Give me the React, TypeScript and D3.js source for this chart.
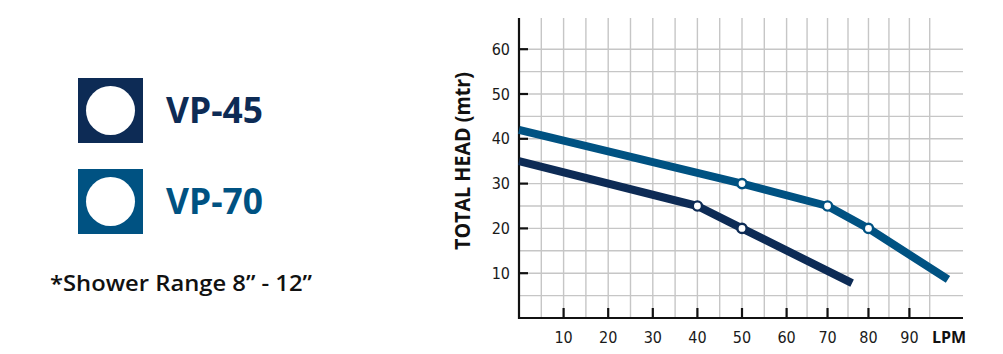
import { useEffect, useRef } from "react";
import * as d3 from "d3";

// chart values
const xTicks = [10, 20, 30, 40, 50, 60, 70, 80, 90];
const yTicks = [10, 20, 30, 40, 50, 60];
const xGrid = [5, 10, 15, 20, 25, 30, 35, 40, 45, 50, 55, 60, 65, 70, 75, 80, 85, 90, 95];
const yGrid = [5, 10, 15, 20, 25, 30, 35, 40, 45, 50, 55, 60];

const vp45 = [
  { lpm: 0, head: 35 },
  { lpm: 40, head: 25 },
  { lpm: 50, head: 20 },
  { lpm: 76, head: 7.8 },
];
const vp45Points = [
  { lpm: 40, head: 25 },
  { lpm: 50, head: 20 },
];

const vp70 = [
  { lpm: 0, head: 42 },
  { lpm: 50, head: 30 },
  { lpm: 70, head: 25 },
  { lpm: 80, head: 20 },
  { lpm: 99.5, head: 8.6 },
];
const vp70Points = [
  { lpm: 50, head: 30 },
  { lpm: 70, head: 25 },
  { lpm: 80, head: 20 },
];

const series = [
  { name: "VP-45", color: "#0d2b55", line: vp45, points: vp45Points },
  { name: "VP-70", color: "#005282", line: vp70, points: vp70Points },
];

const tickFont = "'Liberation Sans Narrow', 'DejaVu Sans Condensed', sans-serif";
const boldFont = "'Open Sans', 'Liberation Sans', sans-serif";

const App = () => {
  const svgRef = useRef<SVGSVGElement>(null);

  useEffect(() => {
    const svg = d3.select(svgRef.current);
    svg.selectAll("*").remove();

    // the printed grid is not quite even past 60
    const x = d3.scaleLinear().domain([0, 60, 90, 100]).range([519, 786.6, 909.4, 950]);
    const y = d3.scaleLinear().domain([0, 60]).range([318, 49.2]);
    const top = 18;
    const right = 963;

    // Grid
    const grid = svg.append("g").attr("stroke", "#c6c6c6").attr("stroke-width", 1.4);
    grid
      .selectAll("line.v")
      .data(xGrid)
      .enter()
      .append("line")
      .attr("class", "v")
      .attr("x1", (d) => x(d))
      .attr("x2", (d) => x(d))
      .attr("y1", top)
      .attr("y2", y(0));
    grid
      .selectAll("line.h")
      .data(yGrid)
      .enter()
      .append("line")
      .attr("class", "h")
      .attr("x1", x(0))
      .attr("x2", right)
      .attr("y1", (d) => y(d))
      .attr("y2", (d) => y(d));

    // Axes
    const axes = svg.append("g").attr("stroke", "#111").attr("stroke-width", 2.2);
    axes.append("line").attr("x1", x(0)).attr("x2", x(0)).attr("y1", top).attr("y2", y(0) + 1);
    axes.append("line").attr("x1", x(0) - 1).attr("x2", right).attr("y1", y(0)).attr("y2", y(0));
    axes
      .selectAll("line.yt")
      .data(yTicks)
      .enter()
      .append("line")
      .attr("class", "yt")
      .attr("x1", x(0))
      .attr("x2", x(0) + 9)
      .attr("y1", (d) => y(d))
      .attr("y2", (d) => y(d));
    axes
      .selectAll("line.xt")
      .data(xTicks)
      .enter()
      .append("line")
      .attr("class", "xt")
      .attr("x1", (d) => x(d))
      .attr("x2", (d) => x(d))
      .attr("y1", y(0) - 10)
      .attr("y2", y(0));

    // Tick labels
    svg
      .append("g")
      .selectAll("text")
      .data(yTicks)
      .enter()
      .append("text")
      .attr("x", 510)
      .attr("y", (d) => y(d) + 5.5)
      .attr("text-anchor", "end")
      .attr("font-family", tickFont)
      .attr("font-size", 16)
      .attr("fill", "#1a1a1a")
      .text((d) => d);
    svg
      .append("g")
      .selectAll("text")
      .data(xTicks)
      .enter()
      .append("text")
      .attr("x", (d) => x(d))
      .attr("y", 343)
      .attr("text-anchor", "middle")
      .attr("font-family", tickFont)
      .attr("font-size", 16)
      .attr("fill", "#1a1a1a")
      .text((d) => d);

    svg
      .append("text")
      .attr("x", 949)
      .attr("y", 343)
      .attr("text-anchor", "middle")
      .attr("font-family", boldFont)
      .attr("font-weight", "bold")
      .attr("font-size", 16)
      .attr("fill", "#111")
      .text("LPM");

    svg
      .append("text")
      .attr("transform", "translate(470,161) rotate(-90)")
      .attr("text-anchor", "middle")
      .attr("font-family", boldFont)
      .attr("font-weight", "bold")
      .attr("font-size", 22)
      .attr("textLength", 178)
      .attr("lengthAdjust", "spacingAndGlyphs")
      .attr("fill", "#111")
      .text("TOTAL HEAD (mtr)");

    // Curves
    const line = d3
      .line<{ lpm: number; head: number }>()
      .x((d) => x(d.lpm))
      .y((d) => y(d.head));

    series.forEach((s) => {
      svg
        .append("path")
        .datum(s.line)
        .attr("d", line)
        .attr("fill", "none")
        .attr("stroke", s.color)
        .attr("stroke-width", 8)
        .attr("stroke-linejoin", "round");
      svg
        .append("g")
        .selectAll("circle")
        .data(s.points)
        .enter()
        .append("circle")
        .attr("cx", (d) => x(d.lpm))
        .attr("cy", (d) => y(d.head))
        .attr("r", 4.6)
        .attr("fill", "#fff")
        .attr("stroke", s.color)
        .attr("stroke-width", 2.4);
    });

    // Legend
    const legend = svg
      .append("g")
      .selectAll("g")
      .data(series)
      .enter()
      .append("g")
      .attr("transform", (d, i) => `translate(78,${78 + i * 91})`);
    legend
      .append("rect")
      .attr("width", 65)
      .attr("height", 65)
      .attr("fill", (d) => d.color);
    legend
      .append("circle")
      .attr("cx", 32.5)
      .attr("cy", 32.5)
      .attr("r", 24.5)
      .attr("fill", "#fff");
    legend
      .append("text")
      .attr("x", 88)
      .attr("y", 45)
      .attr("font-family", boldFont)
      .attr("font-weight", "bold")
      .attr("font-size", 35)
      .attr("textLength", 97)
      .attr("lengthAdjust", "spacingAndGlyphs")
      .attr("fill", (d) => d.color)
      .text((d) => d.name);

    svg
      .append("text")
      .attr("x", 50)
      .attr("y", 291)
      .attr("font-family", boldFont)
      .attr("font-weight", 600)
      .attr("font-size", 21)
      .attr("textLength", 262)
      .attr("lengthAdjust", "spacingAndGlyphs")
      .attr("fill", "#111")
      .text("*Shower Range 8\u201D - 12\u201D");
  }, []);

  return (
    <svg
      ref={svgRef}
      width={1003}
      height={354}
      style={{ position: "absolute", left: 0, top: 0, background: "#fff" }}
    ></svg>
  );
};

export default App;
